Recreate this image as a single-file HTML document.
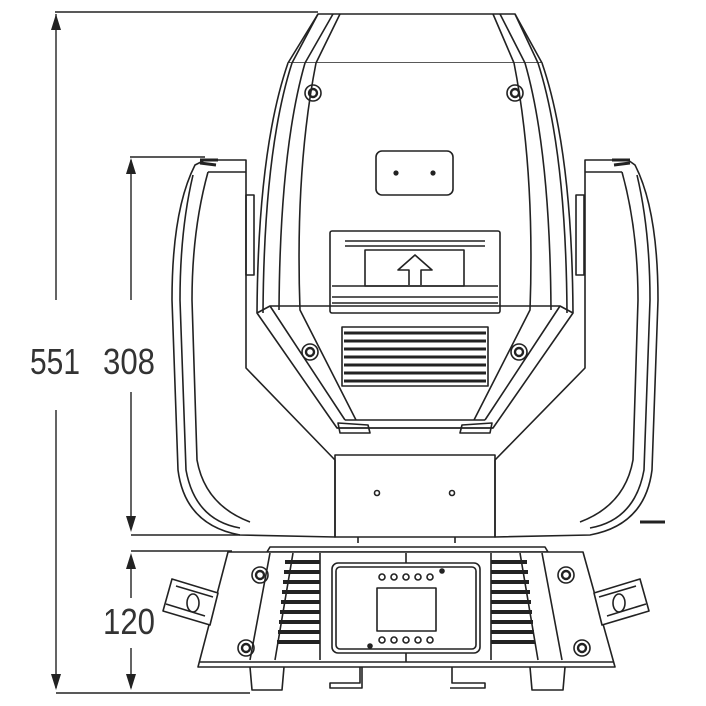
<!DOCTYPE html>
<html><head><meta charset="utf-8"><style>
html,body{margin:0;padding:0;background:#fff;width:706px;height:706px;overflow:hidden}
svg{display:block}
text{font-family:"Liberation Sans",sans-serif;font-size:36px;font-weight:400;fill:#333;stroke:none}
</style></head><body>
<svg width="706" height="706" viewBox="0 0 706 706" fill="none" stroke="#222" stroke-width="1.6" stroke-linejoin="round">
<g stroke-width="1.4">
<line x1="55" y1="12" x2="318" y2="12"/>
<line x1="130" y1="157" x2="205" y2="157"/>
<line x1="131" y1="535" x2="240" y2="535"/>
<line x1="131" y1="551" x2="232" y2="551"/>
<line x1="56" y1="693" x2="250" y2="693"/>
<line x1="56" y1="14" x2="56" y2="300"/>
<line x1="56" y1="410" x2="56" y2="688"/>
<line x1="131" y1="160" x2="131" y2="300"/>
<line x1="131" y1="392" x2="131" y2="525"/>
<line x1="131" y1="560" x2="131" y2="598"/>
<line x1="131" y1="648" x2="131" y2="688"/>
</g>
<g fill="#222" stroke="none">
<polygon points="56,14 51,30 61,30"/>
<polygon points="56,690 51,674 61,674"/>
<polygon points="131,158 126,174 136,174"/>
<polygon points="131,532 126,516 136,516"/>
<polygon points="131,553 126,569 136,569"/>
<polygon points="131,690 126,674 136,674"/>
</g>
<text x="30" y="374" textLength="50" lengthAdjust="spacingAndGlyphs">551</text>
<text x="103" y="374" textLength="52" lengthAdjust="spacingAndGlyphs">308</text>
<text x="103" y="634" textLength="52" lengthAdjust="spacingAndGlyphs">120</text>

<path d="M205,160 L246,160 L246,368 L335,460 L335,537 L240,535 Q185,525 178,470 L172,300 Q172,210 195,165 Z"/>
<path d="M193,175 Q180,230 180,300 L186,470 Q195,520 240,528"/>
<path d="M208,172 L246,172"/>
<path d="M208,172 Q192,230 192,300 L197,460 Q205,505 250,522"/>
<path d="M200,160 L218,160 M200,163 L216,165" stroke-width="3"/>
<path d="M628,160 L585,160 L585,368 L495,460 L495,537 L590,535 Q645,525 652,470 L658,300 Q658,210 635,165 Z"/>
<path d="M637,175 Q650,230 650,300 L644,470 Q635,520 590,528"/>
<path d="M622,172 L585,172"/>
<path d="M622,172 Q638,230 638,300 L633,460 Q625,505 580,522"/>
<path d="M630,160 L612,160 M630,163 L614,165" stroke-width="3"/>
<path d="M640,522 L665,522" stroke-width="3"/>
<rect x="246" y="195" width="8" height="80"/>
<rect x="576" y="195" width="8" height="80"/>
<rect x="335" y="455" width="160" height="82"/>
<circle cx="377" cy="493" r="2.5"/><circle cx="452" cy="493" r="2.5"/>
<line x1="358" y1="537" x2="358" y2="543"/><line x1="455" y1="537" x2="455" y2="543"/>

<path d="M318,14 L515,14 L542,63 L288,63 Z" fill="#fff"/>
<path d="M288,63 Q258,150 257,313 L337,428 L493,428 L573,313 Q572,150 542,63" fill="#fff"/>
<path d="M318,14 L292,63 Q264,150 263,313" />
<path d="M333,14 L305,63 Q280,150 279,310"/>
<path d="M340,14 L316,63 Q295,170 300,310 L356,420"/>
<path d="M515,14 L538,63 Q566,150 567,313"/>
<path d="M500,14 L525,63 Q550,150 551,310"/>
<path d="M493,14 L514,63 Q535,170 530,310 L474,420"/>
<path d="M257,313 L270,306 L560,306 L573,313"/>
<path d="M270,306 L345,420 M560,306 L485,420"/>
<path d="M345,420 L485,420 M337,428 L493,428"/>
<path d="M338,423 L368,425 L370,433 L340,433 Z M492,423 L462,425 L460,433 L490,433 Z"/>
<g>
<circle cx="313" cy="93" r="8"/><circle cx="313" cy="93" r="4" stroke-width="2.4"/>
<circle cx="515" cy="93" r="8"/><circle cx="515" cy="93" r="4" stroke-width="2.4"/>
<circle cx="310" cy="352" r="8"/><circle cx="310" cy="352" r="4" stroke-width="2.4"/>
<circle cx="519" cy="352" r="8"/><circle cx="519" cy="352" r="4" stroke-width="2.4"/>
</g>
<rect x="376" y="151" width="77" height="44" rx="6"/>
<circle cx="396" cy="173" r="1.8" fill="#222"/><circle cx="433" cy="173" r="1.8" fill="#222"/>
<rect x="330" y="231" width="170" height="82" rx="2"/>
<line x1="345" y1="241" x2="485" y2="241"/><line x1="345" y1="246" x2="485" y2="246"/>
<rect x="365" y="250" width="99" height="36"/>
<line x1="332" y1="286" x2="498" y2="286"/><line x1="332" y1="297" x2="498" y2="297"/><line x1="332" y1="303" x2="498" y2="303"/>
<path d="M409,285 L409,270 L398,270 L415,255 L432,270 L421,270 L421,285"/>
<rect x="342" y="327" width="146" height="59"/>
<g stroke-width="3">
<line x1="344" y1="333" x2="486" y2="333"/><line x1="344" y1="341" x2="486" y2="341"/>
<line x1="344" y1="349" x2="486" y2="349"/><line x1="344" y1="357" x2="486" y2="357"/>
<line x1="344" y1="365" x2="486" y2="365"/><line x1="344" y1="373" x2="486" y2="373"/>
<line x1="344" y1="381" x2="486" y2="381"/>
</g>

<path d="M270,547 L545,547 L548,552 L267,552 Z"/>
<path d="M228,552 L583,552 L615,667 L198,667 Z" fill="#fff"/>
<line x1="200" y1="662" x2="613" y2="662"/>
<path d="M270,553 L250,660 M542,553 L562,660"/>
<path d="M293,553 L275,660 M520,553 L538,660"/>
<line x1="320" y1="553" x2="320" y2="660"/><line x1="491" y1="553" x2="491" y2="660"/>
<g stroke-width="4">
<line x1="285" y1="562" x2="320" y2="562"/><line x1="284" y1="572" x2="320" y2="572"/>
<line x1="283" y1="582" x2="320" y2="582"/><line x1="282" y1="592" x2="320" y2="592"/>
<line x1="281" y1="602" x2="320" y2="602"/><line x1="280" y1="612" x2="320" y2="612"/>
<line x1="279" y1="622" x2="320" y2="622"/><line x1="278" y1="632" x2="320" y2="632"/>
<line x1="277" y1="642" x2="320" y2="642"/>
<line x1="491" y1="562" x2="527" y2="562"/><line x1="491" y1="572" x2="528" y2="572"/>
<line x1="491" y1="582" x2="529" y2="582"/><line x1="491" y1="592" x2="530" y2="592"/>
<line x1="491" y1="602" x2="531" y2="602"/><line x1="491" y1="612" x2="532" y2="612"/>
<line x1="491" y1="622" x2="533" y2="622"/><line x1="491" y1="632" x2="534" y2="632"/>
<line x1="491" y1="642" x2="535" y2="642"/>
</g>
<rect x="332" y="563" width="148" height="90" rx="6"/>
<rect x="336" y="567" width="140" height="82" rx="4"/>
<line x1="406" y1="553" x2="406" y2="563"/><line x1="406" y1="653" x2="406" y2="662"/>
<rect x="377" y="588" width="59" height="43"/>
<g>
<circle cx="382" cy="577" r="3"/><circle cx="394" cy="577" r="3"/><circle cx="406" cy="577" r="3"/><circle cx="418" cy="577" r="3"/><circle cx="430" cy="577" r="3"/>
<circle cx="382" cy="640" r="3"/><circle cx="394" cy="640" r="3"/><circle cx="406" cy="640" r="3"/><circle cx="418" cy="640" r="3"/><circle cx="430" cy="640" r="3"/>
</g>
<circle cx="442" cy="571" r="2" fill="#222"/><circle cx="370" cy="646" r="2" fill="#222"/>
<circle cx="260" cy="575" r="8"/><circle cx="260" cy="575" r="4" stroke-width="2.4"/>
<circle cx="246" cy="648" r="8"/><circle cx="246" cy="648" r="4" stroke-width="2.4"/>
<circle cx="566" cy="575" r="8"/><circle cx="566" cy="575" r="4" stroke-width="2.4"/>
<circle cx="582" cy="648" r="8"/><circle cx="582" cy="648" r="4" stroke-width="2.4"/>
<path d="M250,667 L252,690 L282,690 L284,667"/>
<path d="M530,667 L532,690 L563,690 L565,667"/>
<path d="M360,667 L360,683 L330,683 L330,688 L362,688 L362,667"/>
<path d="M452,667 L452,683 L485,683 L485,688 L450,688"/>
<path d="M172,579 L218,593 L210,625 L163,611 Z" fill="#fff"/>
<path d="M176,586 L213,597 M166,604 L205,616"/>
<ellipse cx="193" cy="603" rx="6" ry="9"/>
<path d="M640,579 L594,593 L602,625 L649,611 Z" fill="#fff"/>
<path d="M636,586 L599,597 M646,604 L607,616"/>
<ellipse cx="619" cy="603" rx="6" ry="9"/>
</svg>
</body></html>
